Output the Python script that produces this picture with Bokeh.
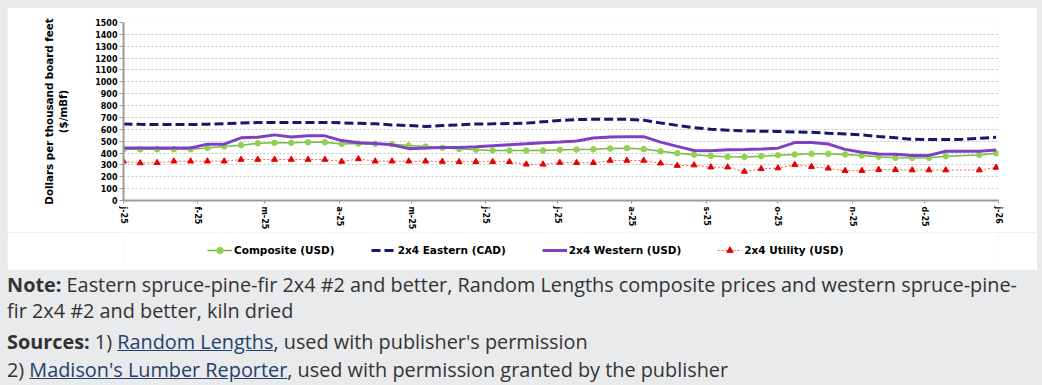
import datetime as dt
from bokeh.plotting import figure
from bokeh.models import Range1d, FixedTicker, Legend, LegendItem, Div
from bokeh.layouts import column
from bokeh.embed import file_html
from bokeh.resources import INLINE

# ---------------- data ----------------
start = dt.datetime(2025, 1, 1)
weeks = [start + dt.timedelta(days=7 * i) for i in range(53)]

composite = [432, 432, 432, 432, 432, 443, 455, 466, 483, 486, 486, 491, 491,
             477, 480, 478, 474, 463, 455, 444, 434, 427, 422, 421, 421, 421,
             427, 429, 431, 438, 441, 433, 415, 398, 386, 376, 368,
             367, 373, 381,
             388, 393, 393, 388, 379, 369, 360, 359, 360, 372, None, 384, 398]

eastern = [645, 642, 640, 640, 640, 643, 648, 653, 657, 658, 658, 658, 658,
           654, 651, 646, 637, 632, 623, 632, 637, 645, 646, 649, 652, 663,
           674, 682, 684, 684, 684, 677, 654, 633, 614, 600, 592,
           587, 584, 582,
           578, 575, 567, 561, 553, 539, 528, 516, 513, 513, 516, 524, 533]

western = [443, 443, 443, 443, 443, 475, 475, 528, 533, 553, 535, 545, 545,
           505, 486, 480, 469, 437, 443, 446, 447, 452, 461, 470, 478, 487,
           492, 502, 527, 535, 538, 538, 492, 456, 421, 419, 427,
           429, 433, 441,
           488, 488, 476, 431, 406, 392, 390, 380, 380, 415, 415, 416, 426]

utility = [330, 316, 318, 331, 331, 331, 331, 345, 345, 345, 345, 345, 345,
           328, 350, 331, 331, 331, 331, 328, 326, 326, 326, 326, 305, 305,
           320, 318, 318, 337, 337, 337, 314, 294, 298, 281, 281,
           244, 267, 273,
           302, 285, 271, 251, 251, 260, 259, 256, 256, 256, None, 256, 278]

series_names = ["Composite (USD)", "2x4 Eastern (CAD)", "2x4 Western (USD)", "2x4 Utility (USD)"]

month_labels = ["j-25", "f-25", "m-25", "a-25", "m-25", "j-25", "j-25",
                "a-25", "s-25", "o-25", "n-25", "d-25", "j-26"]
month_starts = [dt.datetime(2025, m, 1) for m in range(1, 13)] + [dt.datetime(2026, 1, 1)]
y_ticks = list(range(0, 1600, 100))

# ---------------- helpers ----------------
epoch = dt.datetime(1970, 1, 1)


def ms(d):
    return (d - epoch).total_seconds() * 1000.0


def present(xs, ys):
    pts = [(x, y) for x, y in zip(xs, ys) if y is not None]
    return [q[0] for q in pts], [q[1] for q in pts]


FONT = "DejaVu Sans"
C_COMP_LINE, C_COMP_PT = "#76b843", "#8fd24c"
C_EAST = "#17176e"
C_WEST = "#8040c6"
C_UTIL_LINE, C_UTIL_PT = "#ff5a5a", "#e60000"

cx, cy = present(weeks, composite)
ux, uy = present(weeks, utility)


def draw_series(fig):
    r = {}
    r["c_line"] = fig.line(cx, cy, line_color=C_COMP_LINE, line_width=1.5)
    r["c_pts"] = fig.scatter(cx, cy, marker="circle", size=5.5,
                             fill_color=C_COMP_PT, line_color=C_COMP_PT)
    r["u_line"] = fig.line(ux, uy, line_color=C_UTIL_LINE, line_width=1, line_dash="2 2")
    r["u_pts"] = fig.scatter(ux, uy, marker="triangle", size=6,
                             fill_color=C_UTIL_PT, line_color=C_UTIL_PT)
    r["w"] = fig.line(weeks, western, line_color=C_WEST, line_width=3)
    r["e"] = fig.line(weeks, eastern, line_color=C_EAST, line_width=3, line_dash="9 4")
    return r


# ---------------- main chart ----------------
p = figure(width=1030, height=225, x_axis_type="datetime",
           output_backend="svg", toolbar_location=None,
           x_range=Range1d(ms(month_starts[0]), ms(month_starts[-1])),
           y_range=Range1d(0, 1500),
           min_border_left=116, min_border_right=39,
           min_border_top=15, min_border_bottom=32)
p.outline_line_color = None
p.background_fill_color = "white"
p.border_fill_color = "white"

p.xgrid.visible = False
p.ygrid.grid_line_color = "#c4c4c4"
p.ygrid.grid_line_dash = "2 2"
p.ygrid.grid_line_width = 1

p.yaxis.ticker = FixedTicker(ticks=y_ticks)
p.yaxis.axis_line_color = "#9a9a9a"
p.yaxis.axis_line_width = 2
p.yaxis.major_tick_line_color = "#9a9a9a"
p.yaxis.major_tick_in = 0
p.yaxis.major_tick_out = 4
p.yaxis.minor_tick_line_color = None
p.yaxis.major_label_text_font = FONT
p.yaxis.major_label_text_font_style = "bold"
p.yaxis.major_label_text_font_size = "8px"
p.yaxis.major_label_text_color = "black"
p.yaxis.major_label_standoff = 2
p.yaxis.axis_label = "Dollars per thousand board feet\n($/mBf)"
p.yaxis.axis_label_text_font = FONT
p.yaxis.axis_label_text_font_style = "bold"
p.yaxis.axis_label_text_font_size = "10.3px"
p.yaxis.axis_label_text_color = "black"
p.yaxis.axis_label_standoff = 23

tick_ms = [ms(d) for d in month_starts]
p.xaxis.ticker = FixedTicker(ticks=tick_ms)
p.xaxis.major_label_overrides = {t: lab for t, lab in zip(tick_ms, month_labels)}
p.xaxis.major_label_orientation = "vertical"
p.xaxis.axis_line_color = "#9a9a9a"
p.xaxis.axis_line_width = 2
p.xaxis.major_tick_line_color = "#9a9a9a"
p.xaxis.major_tick_in = 0
p.xaxis.major_tick_out = 3
p.xaxis.minor_tick_line_color = None
p.xaxis.major_label_text_font = FONT
p.xaxis.major_label_text_font_style = "bold"
p.xaxis.major_label_text_font_size = "8px"
p.xaxis.major_label_text_color = "black"
p.xaxis.major_label_standoff = 3

draw_series(p)

# ---------------- legend strip ----------------
# Same series drawn into a strip whose ranges exclude them, so only the legend shows.
lg = figure(width=1030, height=38, output_backend="svg", toolbar_location=None,
            x_range=Range1d(0, 1), y_range=Range1d(0, 1),
            x_axis_location=None, y_axis_location=None,
            min_border_left=0, min_border_right=0, min_border_top=0, min_border_bottom=0)
lg.outline_line_color = None
lg.grid.visible = False
lg.background_fill_color = "white"
lg.border_fill_color = "white"

lr = draw_series(lg)

legend = Legend(items=[
    LegendItem(label=series_names[0], renderers=[lr["c_line"], lr["c_pts"]]),
    LegendItem(label=series_names[1], renderers=[lr["e"]]),
    LegendItem(label=series_names[2], renderers=[lr["w"]]),
    LegendItem(label=series_names[3], renderers=[lr["u_line"], lr["u_pts"]]),
], orientation="horizontal", location=(84, 12), spacing=36, padding=0, margin=0,
    glyph_width=25, glyph_height=16, label_standoff=2,
    border_line_color=None, background_fill_alpha=0,
    label_text_font=FONT, label_text_font_style="bold",
    label_text_font_size="10.5px", label_text_color="black")
lg.add_layout(legend, "center")

# ---------------- note ----------------
note_html = (
    '<div style="font-family:\'Open Sans\';font-size:19.85px;color:#333333;'
    'white-space:nowrap;margin-left:-5px;margin-top:-3px;">'
    '<div style="line-height:26px;"><b>Note:</b> Eastern spruce-pine-fir 2x4 #2 and better, '
    'Random Lengths composite prices and western spruce-pine-<br>'
    'fir 2x4 #2 and better, kiln dried</div>'
    '<div style="line-height:28px;margin-top:4px;"><b>Sources:</b> 1) '
    '<span style="color:#26406b;text-decoration:underline;">Random Lengths</span>, '
    'used with publisher\'s permission<br>'
    '2) <span style="color:#26406b;text-decoration:underline;">Madison\'s Lumber Reporter</span>, '
    'used with permission granted by the publisher</div>'
    '</div>'
)
note = Div(text=note_html, width=1030, height=112)

layout = column(p, lg, note, spacing=0)

html = file_html(layout, INLINE, title="Lumber prices")
html = html.replace(
    "</head>",
    "<style>html,body{background:#e9eaeb;}body{padding:7px 0 0 7px !important;"
    "overflow:hidden;}</style></head>", 1)
with open("out.html", "w") as f:
    f.write(html)
